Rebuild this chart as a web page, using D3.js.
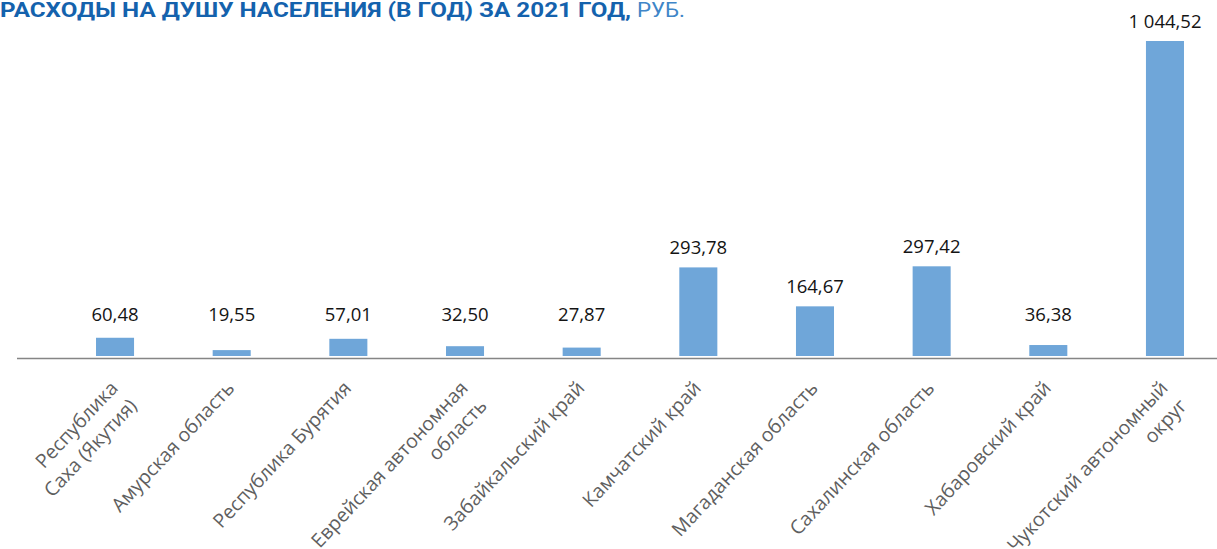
<!DOCTYPE html>
<html><head><meta charset="utf-8">
<script src="https://cdn.jsdelivr.net/npm/d3@7"></script>
<style>
html,body{margin:0;padding:0;background:#fff;}
svg{display:block;}
</style></head>
<body>
<svg id="chart" width="1217" height="549"></svg>
<script>
const categories = [
  ["Республика", "Саха (Якутия)"],
  ["Амурская область"],
  ["Республика Бурятия"],
  ["Еврейская автономная", "область"],
  ["Забайкальский край"],
  ["Камчатский край"],
  ["Магаданская область"],
  ["Сахалинская область"],
  ["Хабаровский край"],
  ["Чукотский автономный", "округ"]
];
const values = [60.48, 19.55, 57.01, 32.50, 27.87, 293.78, 164.67, 297.42, 36.38, 1044.52];
const valueLabels = ["60,48", "19,55", "57,01", "32,50", "27,87", "293,78", "164,67", "297,42", "36,38", "1 044,52"];
const titleBold = "РАСХОДЫ НА ДУШУ НАСЕЛЕНИЯ (В ГОД) ЗА 2021 ГОД,";
const titleUnit = "РУБ.";

const svg = d3.select("#chart");
const keys = categories.map((c, i) => i);

const x = d3.scaleBand().domain(keys).range([56.7, 1223.3]).padding(0);
const barW = x.bandwidth() * 0.326;
const y = d3.scaleLinear().domain([0, d3.max(values)]).range([356, 41]);

// title
svg.append("text")
  .attr("x", 0).attr("y", 17)
  .attr("font-family", "Roboto, 'Open Sans', sans-serif")
  .attr("font-weight", 700).attr("font-size", 20)
  .attr("fill", "#1462ad")
  .attr("textLength", 631).attr("lengthAdjust", "spacingAndGlyphs")
  .text(titleBold);
svg.append("text")
  .attr("x", 637).attr("y", 17)
  .attr("font-family", "Roboto, 'Open Sans', sans-serif")
  .attr("font-weight", 400).attr("font-size", 20)
  .attr("fill", "#3f86c8")
  .attr("textLength", 48).attr("lengthAdjust", "spacingAndGlyphs")
  .text(titleUnit);

// bars
svg.append("g").selectAll("rect").data(values).join("rect")
  .attr("x", (d, i) => x(i) + x.bandwidth() / 2 - barW / 2)
  .attr("y", d => y(d))
  .attr("width", barW)
  .attr("height", d => y(0) - y(d))
  .attr("fill", "#6fa6d9");

// axis line
svg.append("line")
  .attr("x1", 17).attr("x2", 1217)
  .attr("y1", 358.5).attr("y2", 358.5)
  .attr("stroke", "#858585").attr("stroke-width", 1.6);

// value labels
svg.append("g").selectAll("text").data(values).join("text")
  .attr("x", (d, i) => x(i) + x.bandwidth() / 2)
  .attr("y", d => Math.min(y(d) - 13, 321))
  .attr("text-anchor", "middle")
  .attr("font-family", "'Open Sans', sans-serif")
  .attr("font-size", 18.5)
  .attr("fill", "#141414")
  .text((d, i) => valueLabels[i]);

// category labels
const cg = svg.append("g").selectAll("g").data(categories).join("g")
  .attr("transform", (d, i) => `translate(${x(i) + x.bandwidth() / 2 + 4},${389}) rotate(-47)`);
cg.each(function(lines) {
  const t = d3.select(this).append("text")
    .attr("text-anchor", "end")
    .attr("font-family", "'Open Sans', sans-serif")
    .attr("font-size", 19.5)
    .attr("fill", "#5f5f5f");
  lines.forEach((l, j) => {
    t.append("tspan").attr("x", 0).attr("dy", j === 0 ? 0 : 26).text(l);
  });
});
</script>
</body></html>
